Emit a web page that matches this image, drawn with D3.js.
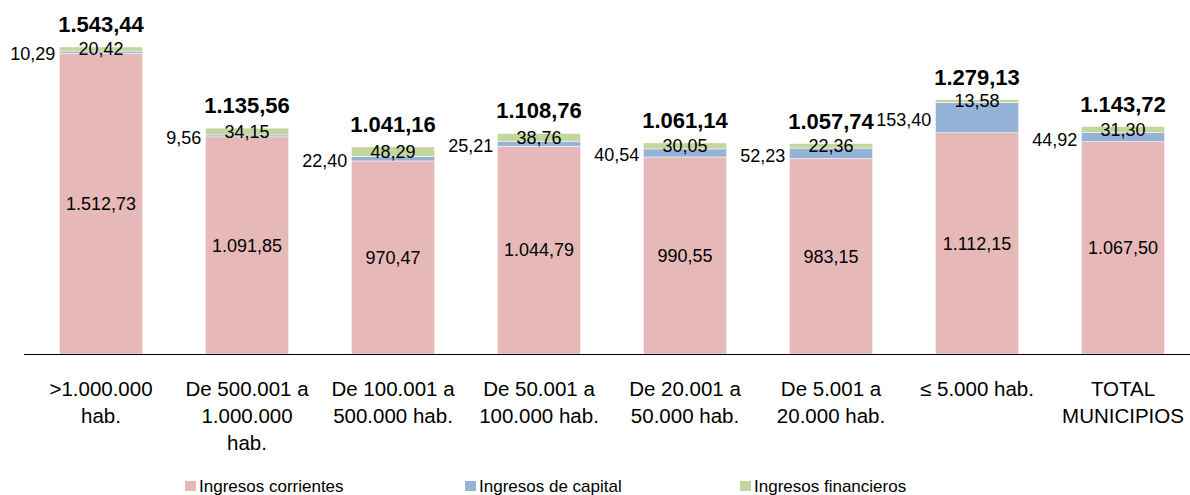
<!DOCTYPE html>
<html>
<head>
<meta charset="utf-8">
<script src="https://cdn.jsdelivr.net/npm/d3@7"></script>
<style>
  body { margin: 0; background: #fff; }
  text { font-family: "Liberation Sans", Arial, sans-serif; }
</style>
</head>
<body>
<script>
// Data
const categories = [">1.000.000 hab.", "De 500.001 a 1.000.000 hab.", "De 100.001 a 500.000 hab.",
  "De 50.001 a 100.000 hab.", "De 20.001 a 50.000 hab.", "De 5.001 a 20.000 hab.",
  "≤ 5.000 hab.", "TOTAL MUNICIPIOS"];
// manual line breaks as in the original
const catLines = [[">1.000.000", "hab."], ["De 500.001 a", "1.000.000", "hab."], ["De 100.001 a", "500.000 hab."],
  ["De 50.001 a", "100.000 hab."], ["De 20.001 a", "50.000 hab."], ["De 5.001 a", "20.000 hab."],
  ["≤ 5.000 hab."], ["TOTAL", "MUNICIPIOS"]];
const corrientes = [1512.73, 1091.85, 970.47, 1044.79, 990.55, 983.15, 1112.15, 1067.50];
const capital = [10.29, 9.56, 22.40, 25.21, 40.54, 52.23, 153.40, 44.92];
const financieros = [20.42, 34.15, 48.29, 38.76, 30.05, 22.36, 13.58, 31.30];
const totals = [1543.44, 1135.56, 1041.16, 1108.76, 1061.14, 1057.74, 1279.13, 1143.72];
const seriesNames = ["Ingresos corrientes", "Ingresos de capital", "Ingresos financieros"];
const colors = ["#E6B9B8", "#95B3D7", "#C3D69B"];

const W = 1190, H = 495;
const fmt = v => v.toLocaleString("de-DE", { minimumFractionDigits: 2, maximumFractionDigits: 2 });

let svg = d3.select("body").append("svg")
  .attr("width", W).attr("height", H);

let x = d3.scaleBand()
  .domain(categories)
  .range([28, 1196])
  .paddingInner(0.43)
  .paddingOuter(0.215);

let y = d3.scaleLinear()
  .domain([0, 1543.44])
  .range([354, 47]);

let rows = categories.map((c, i) => ({
  cat: c, corrientes: corrientes[i], capital: capital[i], financieros: financieros[i]
}));
let stack = d3.stack().keys(["corrientes", "capital", "financieros"])(rows);

// Bars
let layers = svg.append("g").selectAll("g")
  .data(stack)
  .enter().append("g")
  .attr("fill", (d, i) => colors[i]);

layers.selectAll("rect")
  .data(d => d)
  .enter().append("rect")
  .attr("x", d => x(d.data.cat))
  .attr("width", x.bandwidth())
  .attr("y", d => y(d[1]))
  .attr("height", d => y(d[0]) - y(d[1]))
  .attr("stroke", "#fff")
  .attr("stroke-width", 0.5);

// Axis line
svg.append("line")
  .attr("x1", 24).attr("x2", 1190)
  .attr("y1", 354.5).attr("y2", 354.5)
  .attr("stroke", "#000").attr("stroke-width", 1.2);

let labels = svg.append("g").attr("font-size", 18).attr("fill", "#000");

// corrientes labels centered in segment
labels.selectAll(".lc")
  .data(stack[0])
  .enter().append("text")
  .attr("x", d => x(d.data.cat) + x.bandwidth() / 2)
  .attr("y", d => (y(d[0]) + y(d[1])) / 2)
  .attr("dy", "0.35em")
  .attr("text-anchor", "middle")
  .text(d => fmt(d.data.corrientes));

// capital labels to the left of the bar
labels.selectAll(".lk")
  .data(stack[1])
  .enter().append("text")
  .attr("x", d => x(d.data.cat) - 4)
  .attr("y", d => (y(d[0]) + y(d[1])) / 2 + 2)
  .attr("dy", "0.35em")
  .attr("text-anchor", "end")
  .text(d => fmt(d.data.capital));

// financieros labels centered on segment
labels.selectAll(".lf")
  .data(stack[2])
  .enter().append("text")
  .attr("x", d => x(d.data.cat) + x.bandwidth() / 2)
  .attr("y", d => (y(d[0]) + y(d[1])) / 2)
  .attr("dy", "0.35em")
  .attr("text-anchor", "middle")
  .text(d => fmt(d.data.financieros));

// totals
svg.append("g").selectAll("text")
  .data(totals)
  .enter().append("text")
  .attr("x", (d, i) => x(categories[i]) + x.bandwidth() / 2)
  .attr("y", d => y(d) - 15)
  .attr("text-anchor", "middle")
  .attr("font-size", 22)
  .attr("font-weight", "bold")
  .text(d => fmt(d));

// category labels
let catText = svg.append("g").selectAll("text")
  .data(catLines)
  .enter().append("text")
  .attr("x", (d, i) => x(categories[i]) + x.bandwidth() / 2)
  .attr("y", 396)
  .attr("text-anchor", "middle")
  .attr("font-size", 20.5);

catText.selectAll("tspan")
  .data(d => d)
  .enter().append("tspan")
  .attr("x", function () { return d3.select(this.parentNode).attr("x"); })
  .attr("dy", (d, i) => i === 0 ? 0 : 27)
  .text(d => d);

// legend
const legendX = [185, 465, 740];
let legend = svg.append("g").selectAll("g")
  .data(seriesNames)
  .enter().append("g")
  .attr("transform", (d, i) => `translate(${legendX[i]},486)`);

legend.append("rect")
  .attr("x", 0).attr("y", -5)
  .attr("width", 11).attr("height", 10)
  .attr("fill", (d, i) => colors[i]);

legend.append("text")
  .attr("x", 14)
  .attr("dy", "0.35em")
  .attr("font-size", 17)
  .text(d => d);
</script>
</body>
</html>
